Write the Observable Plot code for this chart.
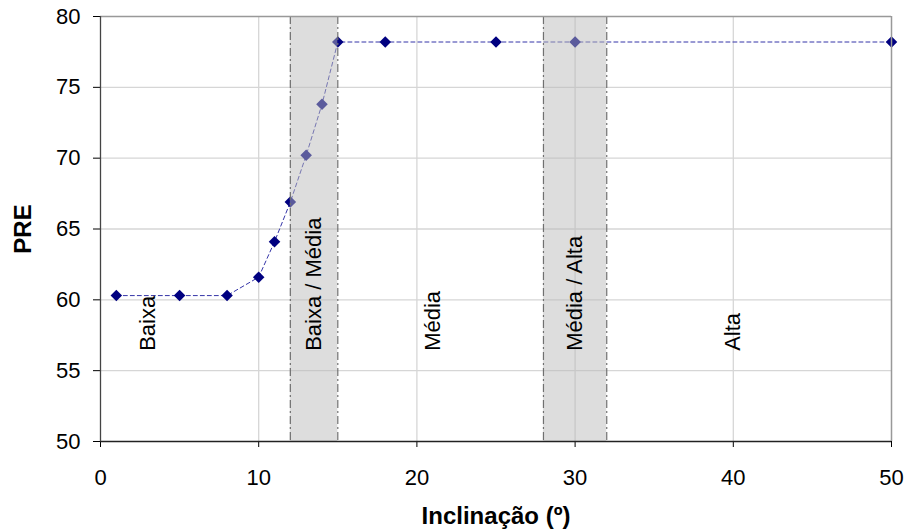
<!DOCTYPE html>
<html>
<head>
<meta charset="utf-8">
<script src="https://cdn.jsdelivr.net/npm/d3@7"></script>
<script src="https://cdn.jsdelivr.net/npm/@observablehq/plot@0.6"></script>
<style>
  html, body { margin: 0; padding: 0; background: #fff; }
  #chart svg { display: block; }
  g[aria-label="y-axis label"] text { font-weight: bold; font-size: 24px; }
  g[aria-label="x-axis label"] text { font-weight: bold; font-size: 24px; }
</style>
</head>
<body>
<div id="chart"></div>
<script>
// Data
const inclinacao = [1, 5, 8, 10, 11, 12, 13, 14, 15, 18, 25, 30, 50];
const preValues = [60.3, 60.3, 60.3, 61.6, 64.1, 66.9, 70.2, 73.8, 78.2, 78.2, 78.2, 78.2, 78.2];
const bandStart = [12, 28];
const bandEnd = [15, 32];
const zoneLabels = ["Baixa", "Baixa / Média", "Média", "Média / Alta", "Alta"];
const zoneX = [3, 13.5, 21, 30, 40];
const zoneLabelY = 56.4;
const xTicks = [0, 10, 20, 30, 40, 50];
const yTicks = [50, 55, 60, 65, 70, 75, 80];

const points = inclinacao.map((x, i) => ({x, y: preValues[i]}));
const bands = bandStart.map((s, i) => ({x1: s, x2: bandEnd[i]}));
const edges = bandStart.concat(bandEnd);
const zones = zoneLabels.map((t, i) => ({t, x: zoneX[i]}));

const chart = Plot.plot({
  width: 905,
  height: 531,
  marginLeft: 100,
  marginRight: 14,
  marginTop: 16,
  marginBottom: 90,
  style: {fontFamily: "Arial, 'Liberation Sans', sans-serif", fontSize: "22px", color: "#000", background: "#fff"},
  x: {domain: [0, 50]},
  y: {domain: [50, 80]},
  marks: [
    Plot.ruleX([10, 20, 30, 40], {stroke: "#d6d6d6", strokeWidth: 1.3}),
    Plot.ruleY([55, 60, 65, 70, 75], {stroke: "#d6d6d6", strokeWidth: 1.3}),
    Plot.line(points, {x: "x", y: "y", stroke: "#3535a8", strokeWidth: 1, strokeDasharray: "4,3"}),
    Plot.dot(points, {x: "x", y: "y", symbol: "diamond2", r: 5.2, fill: "#000080", stroke: "none"}),
    Plot.rectX(bands, {x1: "x1", x2: "x2", y1: 50, y2: 80, fill: "#b9b9b9", fillOpacity: 0.49}),
    Plot.ruleX(edges, {stroke: "#707070", strokeWidth: 1.2, strokeDasharray: "8,3,2,3"}),
    Plot.text(zones, {x: "x", y: zoneLabelY, text: "t", rotate: -90, textAnchor: "start", fontSize: 22, fill: "#000"}),
    Plot.ruleY([80], {stroke: "#999", strokeWidth: 1.5}),
    Plot.ruleX([50], {stroke: "#999", strokeWidth: 1.5}),
    Plot.axisY({ticks: yTicks, tickSize: 7, tickPadding: 13, label: "PRE", labelAnchor: "center", labelArrow: "none", labelOffset: 87, fontSize: 22}),
    Plot.axisX({ticks: xTicks, tickSize: 6, tickPadding: 22, label: "Inclinação (º)", labelAnchor: "center", labelArrow: "none", labelOffset: 82, fontSize: 22}),
    Plot.ruleY([50], {stroke: "#222", strokeWidth: 1.3}),
    Plot.ruleX([0], {stroke: "#444", strokeWidth: 1.3})
  ]
});
document.getElementById("chart").appendChild(chart);
</script>
</body>
</html>
